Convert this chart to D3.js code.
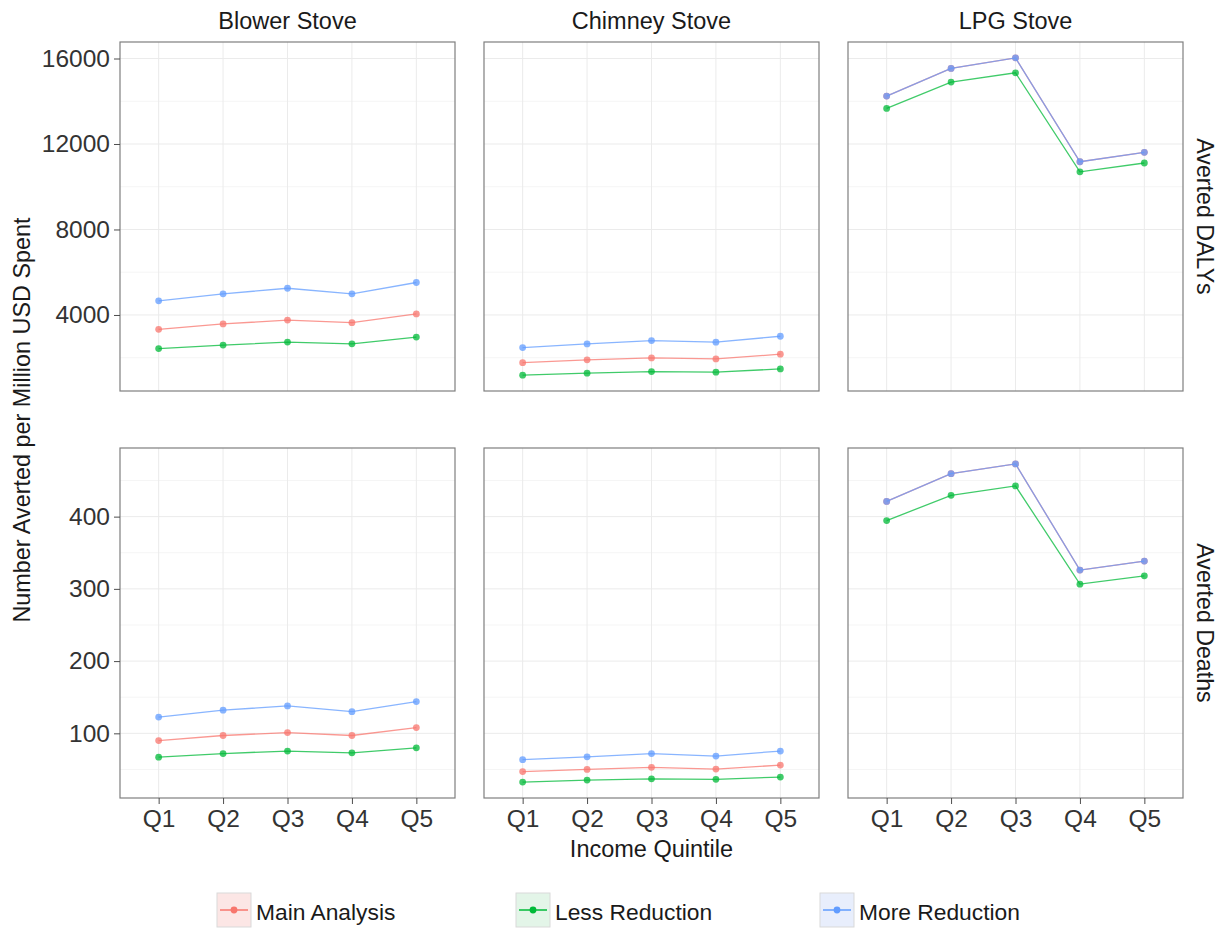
<!DOCTYPE html>
<html>
<head>
<meta charset="utf-8">
<script src="https://cdn.jsdelivr.net/npm/d3@7"></script>
<style>
  body { margin: 0; background: #fff; }
  svg text { font-family: "Liberation Sans", Arial, sans-serif; }
</style>
</head>
<body>
<div id="chart"></div>
<script>
// categories
const quintiles = ["Q1", "Q2", "Q3", "Q4", "Q5"];
const stoves = ["Blower Stove", "Chimney Stove", "LPG Stove"];
const outcomes = ["Averted DALYs", "Averted Deaths"];
const scenarios = ["Main Analysis", "Less Reduction", "More Reduction"];
const colors = ["#F8766D", "#00BA38", "#619CFF"];

// y tick labels
const dalyTicks = [4000, 8000, 12000, 16000];
const deathTicks = [100, 200, 300, 400];

// values, Q1..Q5
// Averted DALYs per million USD
const blowerDalyMain = [3330, 3580, 3760, 3640, 4050];
const blowerDalyLess = [2430, 2590, 2730, 2650, 2965];
const blowerDalyMore = [4660, 4990, 5250, 4990, 5520];
const chimneyDalyMain = [1770, 1900, 1990, 1945, 2165];
const chimneyDalyLess = [1185, 1275, 1350, 1325, 1475];
const chimneyDalyMore = [2475, 2645, 2800, 2725, 3005];
const lpgDalyMain = [14240, 15535, 16030, 11170, 11610];
const lpgDalyLess = [13665, 14895, 15330, 10700, 11110];
const lpgDalyMore = [14240, 15535, 16030, 11170, 11610];

// Averted deaths per million USD
const blowerDeathMain = [90, 97, 101, 97, 108];
const blowerDeathLess = [67, 72, 75.5, 73, 80];
const blowerDeathMore = [122.5, 132, 138, 130, 144];
const chimneyDeathMain = [47, 50, 53, 50.5, 56];
const chimneyDeathLess = [32.5, 35.3, 37, 36.3, 39.5];
const chimneyDeathMore = [63.5, 67.5, 72, 68.5, 75.5];
const lpgDeathMain = [421, 459.5, 473, 326, 338.5];
const lpgDeathLess = [394.5, 429.5, 442.5, 306.5, 318];
const lpgDeathMore = [421, 459.5, 473, 326, 338.5];

// [outcome][stove][scenario]
const panels = [
  [
    [blowerDalyMain, blowerDalyLess, blowerDalyMore],
    [chimneyDalyMain, chimneyDalyLess, chimneyDalyMore],
    [lpgDalyMain, lpgDalyLess, lpgDalyMore]
  ],
  [
    [blowerDeathMain, blowerDeathLess, blowerDeathMore],
    [chimneyDeathMain, chimneyDeathLess, chimneyDeathMore],
    [lpgDeathMain, lpgDeathLess, lpgDeathMore]
  ]
];
const yTicks = [dalyTicks, deathTicks];

const width = 1223, height = 928;
const colX = [[120, 455], [484, 819], [848, 1183]];
const rowY = [[42, 391], [448, 798]];

const svg = d3.select("#chart").append("svg")
  .attr("width", width)
  .attr("height", height);

const x = colX.map(r => d3.scalePoint().domain(quintiles).range(r).padding(0.6));

// shared y per row, ggplot style 5% expansion
const y = rowY.map((r, i) => {
  const all = panels[i].flat(2);
  const [lo, hi] = d3.extent(all);
  const pad = (hi - lo) * 0.05;
  return d3.scaleLinear().domain([lo - pad, hi + pad]).range([r[1], r[0]]);
});

const line = (xs, ys) => d3.line()
  .x((d, i) => xs(quintiles[i]))
  .y(d => ys(d));

panels.forEach((row, ri) => {
  const ys = y[ri];
  const major = yTicks[ri];
  const step = major[1] - major[0];
  const minor = d3.range(major[0] - step / 2, ys.domain()[1], step)
    .filter(v => v > ys.domain()[0]);

  row.forEach((series, ci) => {
    const xs = x[ci];
    const [x0, x1] = colX[ci];
    const [y0, y1] = rowY[ri];
    const g = svg.append("g");

    // grid
    g.selectAll(".minor").data(minor).join("line")
      .attr("x1", x0).attr("x2", x1)
      .attr("y1", d => ys(d)).attr("y2", d => ys(d))
      .attr("stroke", "#f5f5f5").attr("stroke-width", 1);
    g.selectAll(".major").data(major).join("line")
      .attr("x1", x0).attr("x2", x1)
      .attr("y1", d => ys(d)).attr("y2", d => ys(d))
      .attr("stroke", "#ebebeb").attr("stroke-width", 1);
    g.selectAll(".vgrid").data(quintiles).join("line")
      .attr("x1", d => xs(d)).attr("x2", d => xs(d))
      .attr("y1", y0).attr("y2", y1)
      .attr("stroke", "#ebebeb").attr("stroke-width", 1);

    // series
    series.forEach((vals, si) => {
      g.append("path")
        .datum(vals)
        .attr("d", line(xs, ys))
        .attr("fill", "none")
        .attr("stroke", colors[si])
        .attr("stroke-opacity", 0.75)
        .attr("stroke-width", 1.3);
      g.selectAll(null).data(vals).join("circle")
        .attr("cx", (d, i) => xs(quintiles[i]))
        .attr("cy", d => ys(d))
        .attr("r", 3.4)
        .attr("fill", colors[si])
        .attr("fill-opacity", 0.75);
    });

    // border
    g.append("rect")
      .attr("x", x0).attr("y", y0)
      .attr("width", x1 - x0).attr("height", y1 - y0)
      .attr("fill", "none")
      .attr("stroke", "#7f7f7f")
      .attr("stroke-width", 1.2);

    // strip labels
    if (ri === 0) {
      svg.append("text")
        .attr("x", (x0 + x1) / 2).attr("y", 21)
        .attr("text-anchor", "middle").attr("dominant-baseline", "central")
        .attr("font-size", 23.5).attr("fill", "#1a1a1a")
        .text(stoves[ci]);
    }
    if (ci === 2) {
      svg.append("text")
        .attr("transform", `translate(1205,${(y0 + y1) / 2}) rotate(90)`)
        .attr("text-anchor", "middle").attr("dominant-baseline", "central")
        .attr("font-size", 23.2).attr("fill", "#1a1a1a")
        .text(outcomes[ri]);
    }

    // axes
    if (ci === 0) {
      const ax = svg.append("g")
        .attr("transform", `translate(${x0},0)`)
        .call(d3.axisLeft(ys).tickValues(major).tickSize(6).tickPadding(4).tickFormat(d3.format("d")));
      ax.select(".domain").remove();
      ax.selectAll(".tick line").attr("stroke", "#4d4d4d");
      ax.selectAll(".tick text").attr("font-size", 24.5).attr("fill", "#333")
        .attr("font-family", "Liberation Sans, Arial, sans-serif");
    }
    if (ri === 1) {
      const ax = svg.append("g")
        .attr("transform", `translate(0,${y1})`)
        .call(d3.axisBottom(xs).tickSize(6).tickPadding(6));
      ax.select(".domain").remove();
      ax.selectAll(".tick line").attr("stroke", "#4d4d4d");
      ax.selectAll(".tick text").attr("font-size", 24.5).attr("fill", "#333")
        .attr("font-family", "Liberation Sans, Arial, sans-serif");
    }
  });
});

// axis titles
svg.append("text")
  .attr("x", (colX[0][0] + colX[2][1]) / 2).attr("y", 849)
  .attr("text-anchor", "middle").attr("dominant-baseline", "central")
  .attr("font-size", 23.5).attr("fill", "#1a1a1a")
  .text("Income Quintile");

svg.append("text")
  .attr("transform", `translate(22,${(rowY[0][0] + rowY[1][1]) / 2}) rotate(-90)`)
  .attr("text-anchor", "middle").attr("dominant-baseline", "central")
  .attr("font-size", 23.4).attr("fill", "#1a1a1a")
  .text("Number Averted per Million USD Spent");

// legend
const keyFills = ["#fce6e5", "#e3f5e8", "#e8eefc"];
const keyX = [217, 516, 820];
const legend = svg.append("g").selectAll("g").data(scenarios).join("g")
  .attr("transform", (d, i) => `translate(${keyX[i]},893)`);
legend.append("rect")
  .attr("width", 34).attr("height", 34)
  .attr("fill", (d, i) => keyFills[i])
  .attr("stroke", "#d9d9d9").attr("stroke-width", 1);
legend.append("line")
  .attr("x1", 3).attr("x2", 31).attr("y1", 17).attr("y2", 17)
  .attr("stroke", (d, i) => colors[i]).attr("stroke-width", 1.5);
legend.append("circle")
  .attr("cx", 17).attr("cy", 17).attr("r", 3.4)
  .attr("fill", (d, i) => colors[i]);
legend.append("text")
  .attr("x", 39).attr("y", 19)
  .attr("dominant-baseline", "central")
  .attr("font-size", 22.8).attr("fill", "#1a1a1a")
  .text(d => d);
</script>
</body>
</html>
